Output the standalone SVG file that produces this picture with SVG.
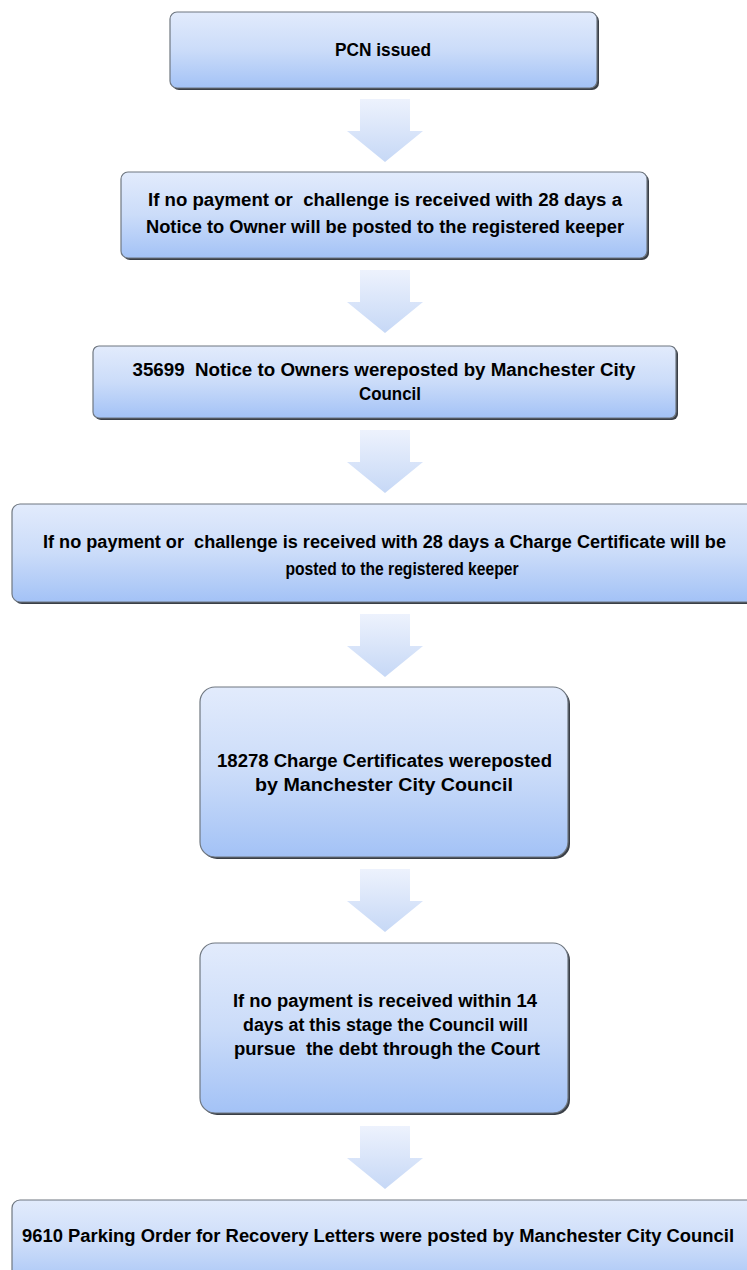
<svg xmlns="http://www.w3.org/2000/svg" width="747" height="1270" viewBox="0 0 747 1270" xml:space="preserve">
<defs>
<linearGradient id="bg" x1="0" y1="0" x2="0" y2="1">
<stop offset="0" stop-color="#e2ebfc"/>
<stop offset="0.5" stop-color="#cbdcf9"/>
<stop offset="1" stop-color="#a3c2f6"/>
</linearGradient>
<linearGradient id="ag" x1="0" y1="0" x2="0" y2="1">
<stop offset="0" stop-color="#edf2fd"/>
<stop offset="1" stop-color="#c6d8f6"/>
</linearGradient>
<path id="arr" d="M-25,0 H25 V32 H38 L0,63 L-38,32 H-25 Z"/>
</defs>
<style>
.box{fill:url(#bg);stroke:#6f7780;stroke-width:1.2}
.sh{fill:#3a3f47}
.arrow{fill:url(#ag)}
text{font-family:"Liberation Sans",Arial,sans-serif;font-weight:bold;font-size:18px;fill:#000;text-anchor:middle;white-space:pre}
</style>
<rect width="747" height="1270" fill="#fff"/>
<g id="connectors">
<use href="#arr" class="arrow" x="385" y="99"/>
<use href="#arr" class="arrow" x="385" y="270"/>
<use href="#arr" class="arrow" x="385" y="430"/>
<use href="#arr" class="arrow" x="385" y="614"/>
<use href="#arr" class="arrow" x="385" y="869"/>
<use href="#arr" class="arrow" x="385" y="1126"/>
</g>
<g id="n1">
<rect class="sh" x="172" y="14" width="427" height="76" rx="7"/>
<rect class="box" x="170" y="12" width="427" height="76" rx="7"/>
<text x="383" y="56" textLength="96" lengthAdjust="spacingAndGlyphs">PCN issued</text>
</g>
<g id="n2">
<rect class="sh" x="123" y="174" width="526" height="86" rx="7"/>
<rect class="box" x="121" y="172" width="526" height="86" rx="7"/>
<text x="385" y="206" textLength="474" lengthAdjust="spacingAndGlyphs">If no payment or  challenge is received with 28 days a</text>
<text x="385" y="233" textLength="478" lengthAdjust="spacingAndGlyphs">Notice to Owner will be posted to the registered keeper</text>
</g>
<g id="n3">
<rect class="sh" x="95" y="348" width="583" height="72" rx="6"/>
<rect class="box" x="93" y="346" width="583" height="72" rx="6"/>
<text x="384" y="376" textLength="503" lengthAdjust="spacingAndGlyphs">35699  Notice to Owners wereposted by Manchester City</text>
<text x="390" y="400" textLength="62" lengthAdjust="spacingAndGlyphs">Council</text>
</g>
<g id="n4">
<rect class="sh" x="14" y="506" width="750" height="98" rx="8"/>
<rect class="box" x="12" y="504" width="750" height="98" rx="8"/>
<text x="384.5" y="548" textLength="683" lengthAdjust="spacingAndGlyphs">If no payment or  challenge is received with 28 days a Charge Certificate will be</text>
<text x="402" y="575" textLength="233" lengthAdjust="spacingAndGlyphs">posted to the registered keeper</text>
</g>
<g id="n5">
<rect class="sh" x="202" y="689" width="368" height="170" rx="15"/>
<rect class="box" x="200" y="687" width="368" height="170" rx="15"/>
<text x="384.5" y="767" textLength="335" lengthAdjust="spacingAndGlyphs">18278 Charge Certificates wereposted</text>
<text x="384" y="791" textLength="258" lengthAdjust="spacingAndGlyphs">by Manchester City Council</text>
</g>
<g id="n6">
<rect class="sh" x="202" y="945" width="368" height="170" rx="15"/>
<rect class="box" x="200" y="943" width="368" height="170" rx="15"/>
<text x="385" y="1007" textLength="304" lengthAdjust="spacingAndGlyphs">If no payment is received within 14</text>
<text x="385.5" y="1031" textLength="285" lengthAdjust="spacingAndGlyphs">days at this stage the Council will</text>
<text x="387" y="1055" textLength="306" lengthAdjust="spacingAndGlyphs">pursue  the debt through the Court</text>
</g>
<g id="n7">
<rect class="sh" x="14" y="1202" width="750" height="90" rx="8"/>
<rect class="box" x="12" y="1200" width="750" height="90" rx="8"/>
<text x="378" y="1242" textLength="712" lengthAdjust="spacingAndGlyphs">9610 Parking Order for Recovery Letters were posted by Manchester City Council</text>
</g>
</svg>
